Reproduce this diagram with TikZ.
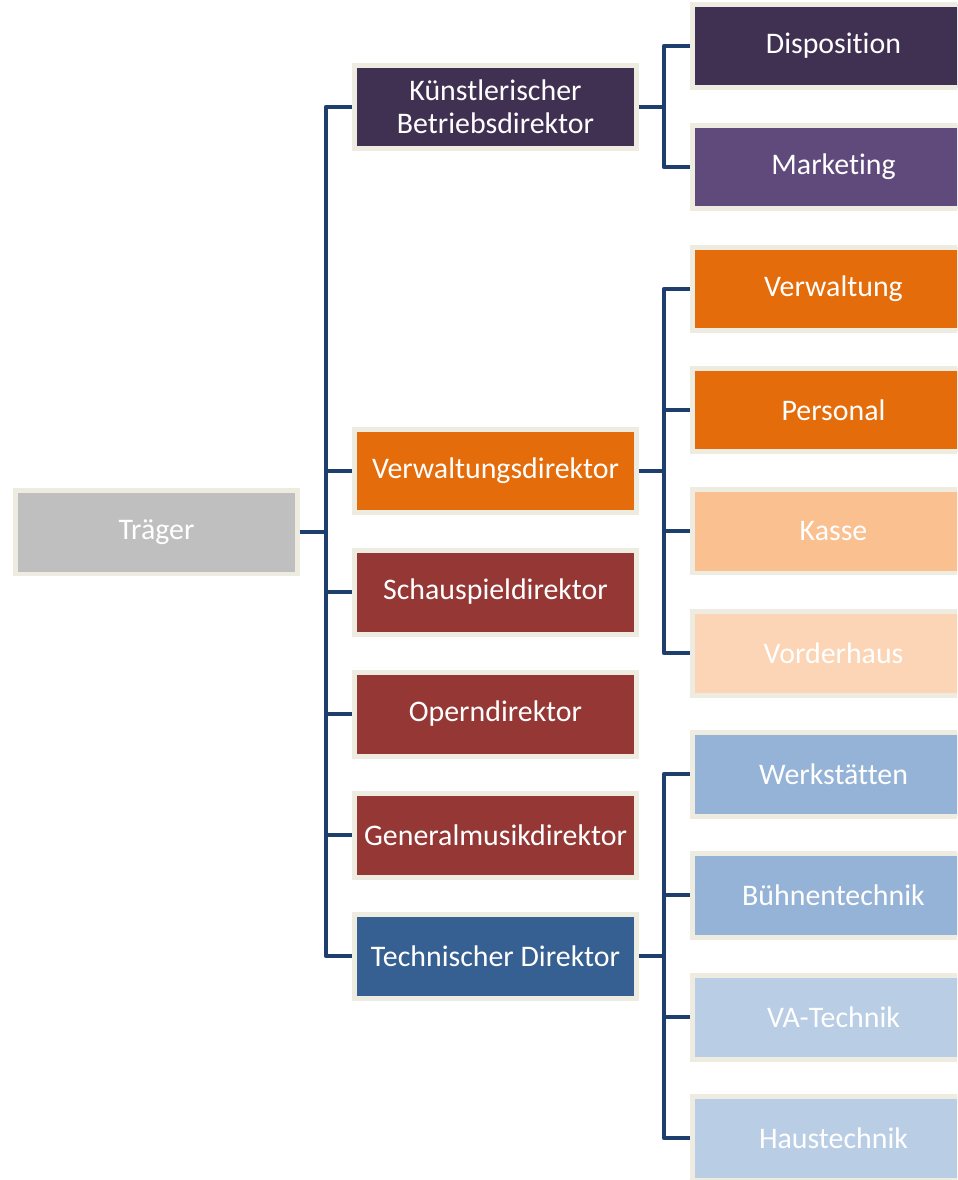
\documentclass[tikz,border=0pt]{standalone}
\usepackage{fontspec}
\setmainfont{Carlito}[Ligatures=NoCommon]
\usepackage{xcolor}
\usepackage{tikz}
\usetikzlibrary{positioning}

\definecolor{frame}{HTML}{EEECE1}
\definecolor{linkblue}{HTML}{1E3F6E}
\definecolor{greybox}{HTML}{BFBFBF}
\definecolor{plumdark}{HTML}{403152}
\definecolor{plumlight}{HTML}{604A7B}
\definecolor{orangedark}{HTML}{E46C0A}
\definecolor{orangemid}{HTML}{FAC090}
\definecolor{orangelight}{HTML}{FBD5B5}
\definecolor{brick}{HTML}{953735}
\definecolor{steel}{HTML}{376092}
\definecolor{skymid}{HTML}{95B3D7}
\definecolor{skylight}{HTML}{B9CDE5}

\begin{document}
\begin{tikzpicture}[x=0.02cm, y=-0.02cm,
  box/.style={rectangle, draw=frame, line width=1mm, minimum width=5.64cm,
    minimum height=1.68cm, inner sep=0pt, align=center, text=white,
    font=\fontsize{17}{19}\selectfont},
  conn/.style={draw=linkblue, line width=0.9mm, line join=round}]
\useasboundingbox (0,0) rectangle (957,1180);
\clip (0,0) rectangle (957,1180);
% LEFT: Traeger
\node[box, fill=greybox] (trg) at (156.5,532) {Träger};
% MIDDLE: directors
\node[box, fill=plumdark] (kbd) at (495.5,107) {Künstlerischer\\Betriebsdirektor};
\node[box, fill=orangedark] (vwd) at (495.5,471) {Verwaltungsdirektor};
\node[box, fill=brick] (spd) at (495.5,592) {Schauspieldirektor};
\node[box, fill=brick] (opd) at (495.5,714) {Operndirektor};
\node[box, fill=brick] (gmd) at (495.5,835) {Generalmusikdirektor};
\node[box, fill=steel] (tdir) at (495.5,956) {Technischer Direktor};
% RIGHT: departments
\node[box, fill=plumdark] (dsp) at (833.5,46) {Disposition};
\node[box, fill=plumlight] (mkt) at (833.5,167) {Marketing};
\node[box, fill=orangedark] (vwl) at (833.5,289) {Verwaltung};
\node[box, fill=orangedark] (prs) at (833.5,410) {Personal};
\node[box, fill=orangemid] (kas) at (833.5,531) {Kasse};
\node[box, fill=orangelight] (vdh) at (833.5,653) {Vorderhaus};
\node[box, fill=skymid] (wks) at (833.5,774) {Werkstätten};
\node[box, fill=skymid] (bht) at (833.5,895) {Bühnentechnik};
\node[box, fill=skylight] (vat) at (833.5,1017) {VA-Technik};
\node[box, fill=skylight] (hst) at (833.5,1138) {Haustechnik};
% CONNECTORS: Traeger to directors
\draw[conn] (trg.east) -- ++(26,0) |- (kbd.west);
\draw[conn] (trg.east) -- ++(26,0) |- (vwd.west);
\draw[conn] (trg.east) -- ++(26,0) |- (spd.west);
\draw[conn] (trg.east) -- ++(26,0) |- (opd.west);
\draw[conn] (trg.east) -- ++(26,0) |- (gmd.west);
\draw[conn] (trg.east) -- ++(26,0) |- (tdir.west);
% CONNECTORS: directors to departments
\draw[conn] (kbd.east) -- ++(25,0) |- (dsp.west);
\draw[conn] (kbd.east) -- ++(25,0) |- (mkt.west);
\draw[conn] (vwd.east) -- ++(25,0) |- (vwl.west);
\draw[conn] (vwd.east) -- ++(25,0) |- (prs.west);
\draw[conn] (vwd.east) -- ++(25,0) |- (kas.west);
\draw[conn] (vwd.east) -- ++(25,0) |- (vdh.west);
\draw[conn] (tdir.east) -- ++(25,0) |- (wks.west);
\draw[conn] (tdir.east) -- ++(25,0) |- (bht.west);
\draw[conn] (tdir.east) -- ++(25,0) |- (vat.west);
\draw[conn] (tdir.east) -- ++(25,0) |- (hst.west);
\end{tikzpicture}
\end{document}
